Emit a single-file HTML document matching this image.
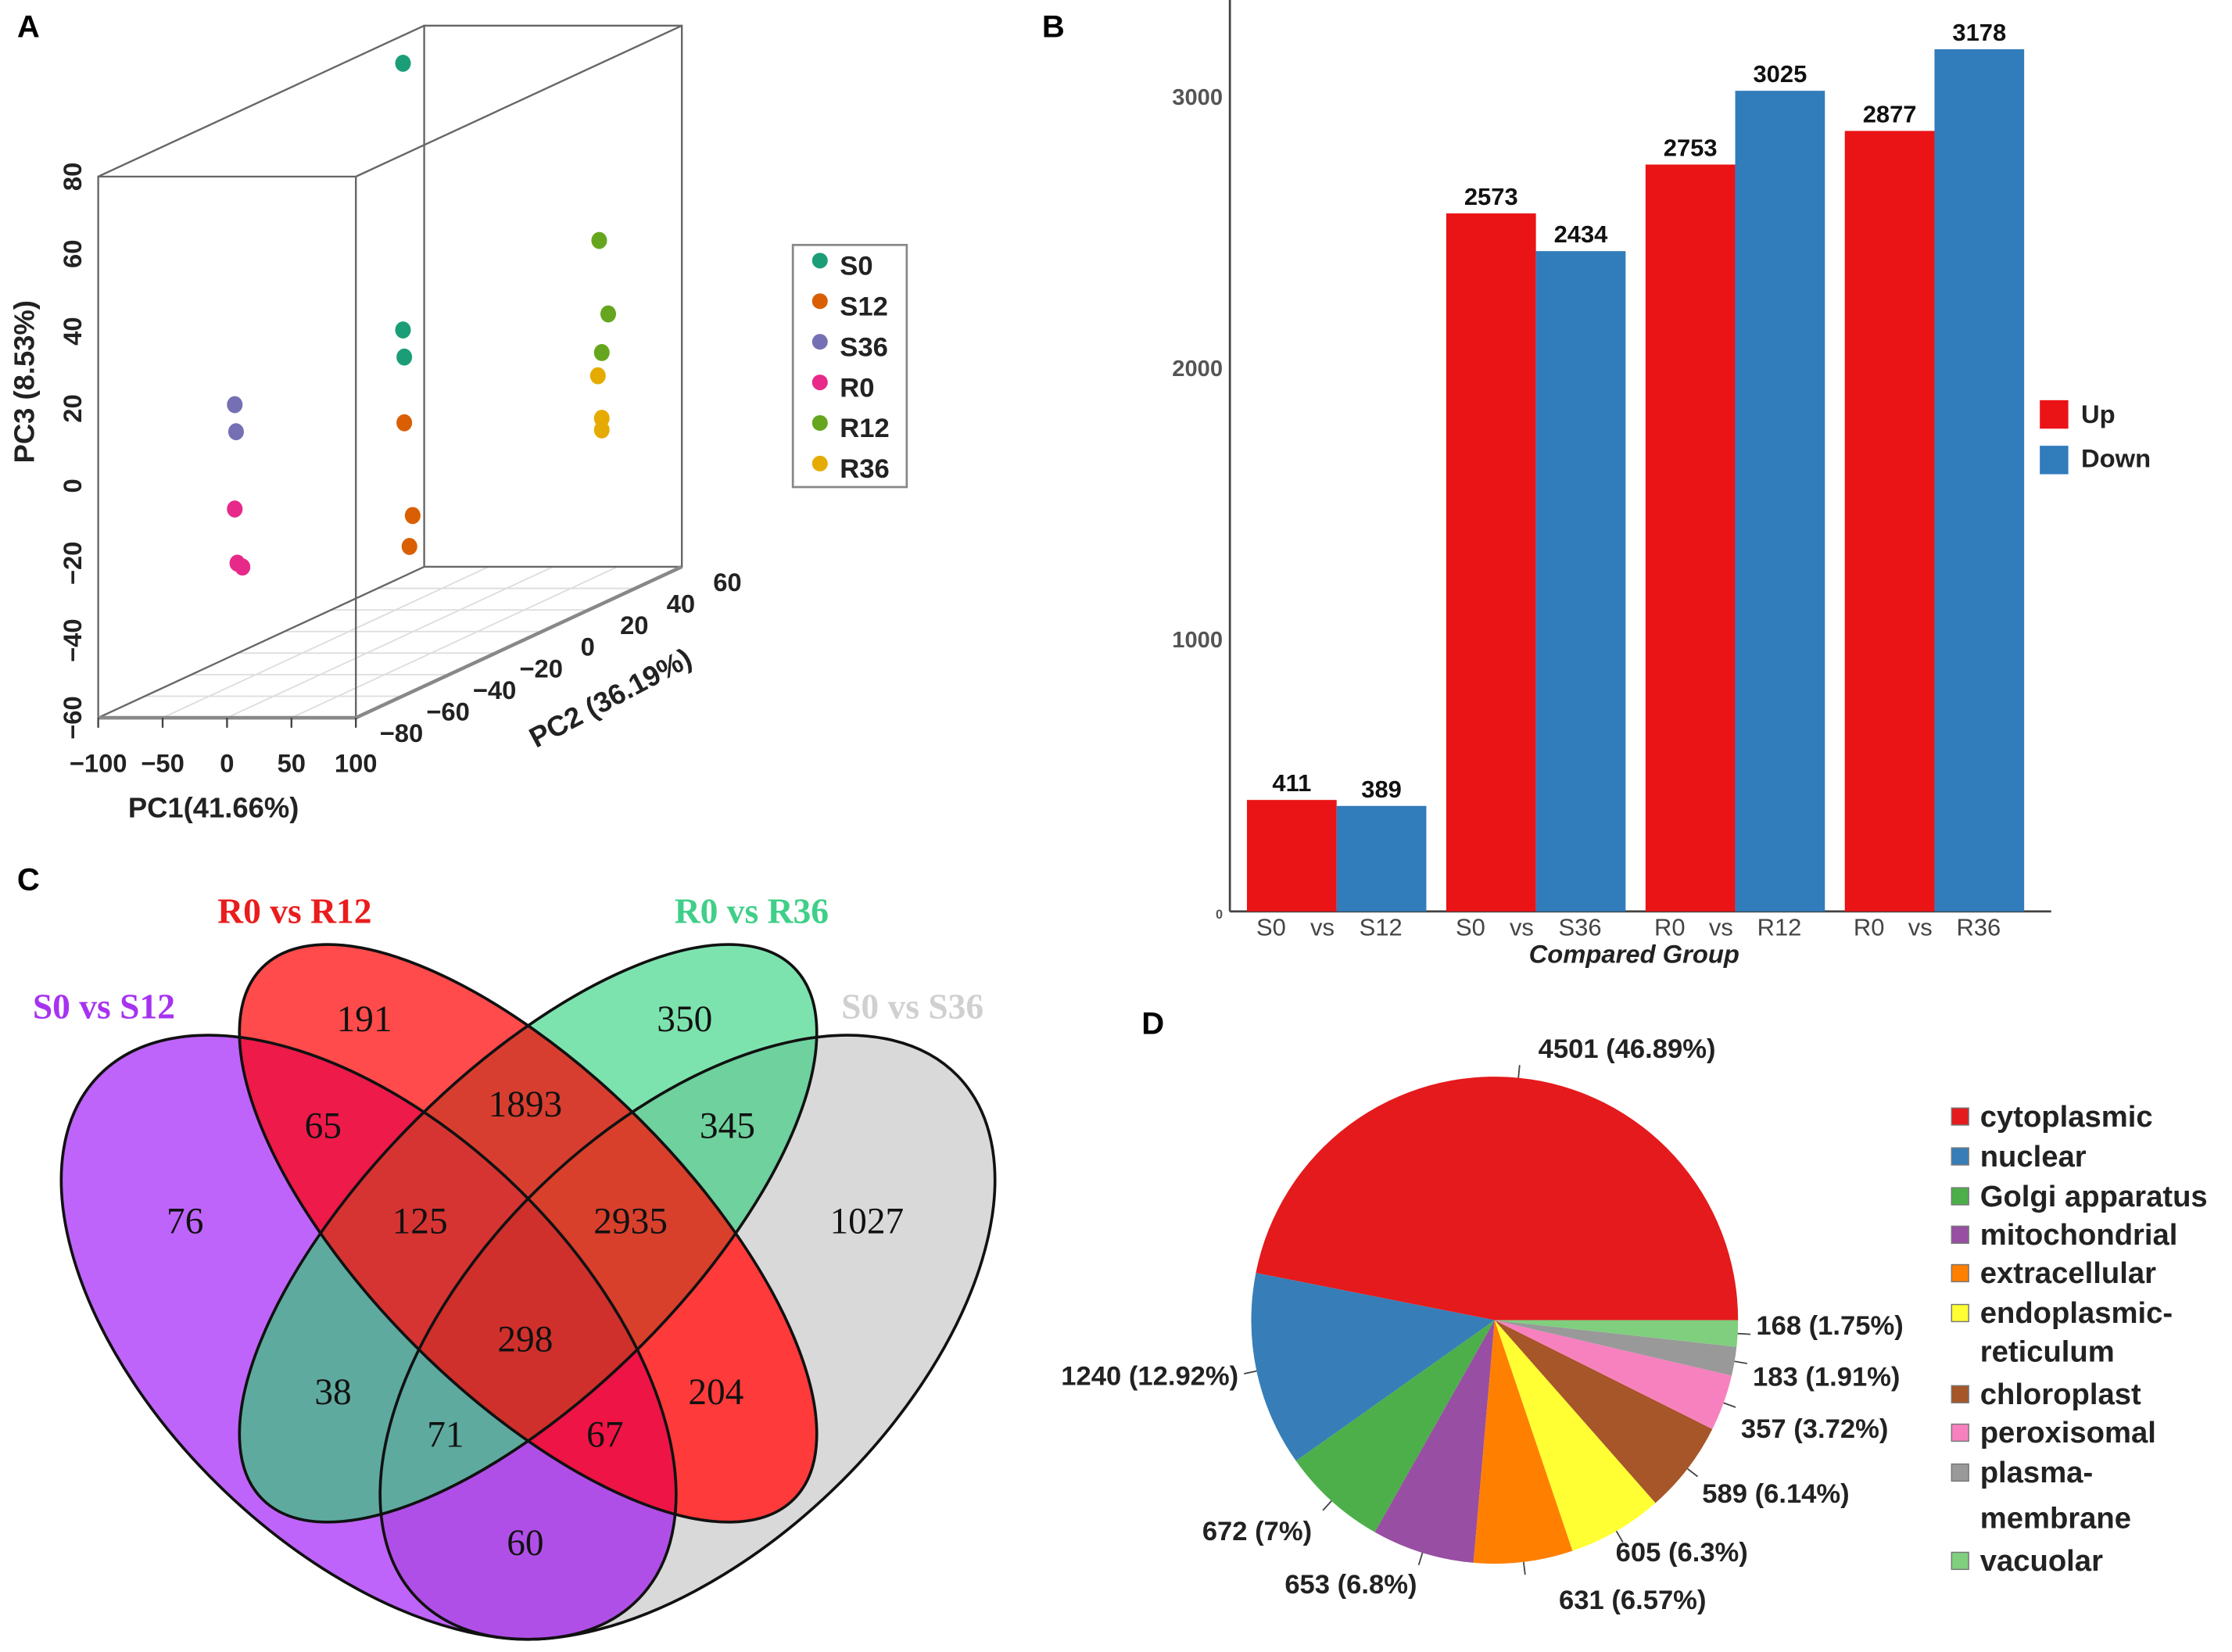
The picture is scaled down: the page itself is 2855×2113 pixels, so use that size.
<!DOCTYPE html>
<html><head><meta charset="utf-8">
<style>
html,body{margin:0;padding:0;background:#fff;overflow:hidden;width:2855px;height:2113px;}
svg{display:block;}
text{font-family:"Liberation Sans",Arial,sans-serif;}
.serif{font-family:"Liberation Serif","Times New Roman",serif;}
.narrow{font-family:"Liberation Sans Narrow","Liberation Sans",sans-serif;}
</style></head>
<body>
<svg id="fig" width="2855" height="2113" viewBox="0 0 1568 1160" preserveAspectRatio="none" overflow="hidden" xmlns="http://www.w3.org/2000/svg">
<defs>
<clipPath id="cP"><ellipse cx="259" cy="939" rx="264" ry="148" transform="rotate(44 259 939)"/></clipPath>
<clipPath id="cY"><ellipse cx="483" cy="939" rx="264" ry="148" transform="rotate(-44 483 939)"/></clipPath>
<clipPath id="cR"><ellipse cx="371" cy="866" rx="264" ry="112" transform="rotate(45 371 866)"/></clipPath>
<clipPath id="cG"><ellipse cx="371" cy="866" rx="264" ry="112" transform="rotate(-45 371 866)"/></clipPath>
</defs>
<g id="panelA"></g>
<g id="panelB"></g>
<g id="panelC"></g>
<g id="panelD"></g>
</svg>
<script>
// ---------- PCA data ----------
const pcaGroups = ["S0","S12","S36","R0","R12","R36"];
const pcaColors = ["#1b9e77","#d95f02","#7570b3","#e7298a","#66a61e","#e6ab02"];
const pcaPC1 = [[-8,-8,-7],[-7,-0.5,-3],[6,7],[6,8,12],[72,79,74],[71,74,74]];
const pcaPC2 = [[0,0,0],[0,0,0],[-80,-80],[-80,-80,-80],[40,40,40],[40,40,40]];
const pcaPC3 = [[87,18,11],[-6,-30,-38],[21,14],[-6,-20,-21],[30,11,1],[-5,-16,-19]];
const pc1Ticks = [-100,-50,0,50,100];
const pc2Ticks = [-80,-60,-40,-20,0,20,40,60];
const pc3Ticks = [-60,-40,-20,0,20,40,60,80];
// ---------- Bar data ----------
const barGroupA = ["S0","S0","R0","R0"];
const barGroupB = ["S12","S36","R12","R36"];
const upValues = [411,2573,2753,2877];
const downValues = [389,2434,3025,3178];
const barTicks = [0,1000,2000,3000];
// ---------- Venn data ----------
const vennSets = ["S0 vs S12","R0 vs R12","R0 vs R36","S0 vs S36"];
const vennCounts = [191,350,65,1893,345,76,125,2935,1027,298,38,204,71,67,60];
// ---------- Pie data ----------
const pieLabels = ["cytoplasmic","nuclear","Golgi apparatus","mitochondrial","extracellular","endoplasmic-\nreticulum","chloroplast","peroxisomal","plasma-\nmembrane","vacuolar"];
const pieValues = [4501,1240,672,653,631,605,589,357,183,168];
const piePercents = ["46.89%","12.92%","7%","6.8%","6.57%","6.3%","6.14%","3.72%","1.91%","1.75%"];

const NS="http://www.w3.org/2000/svg";
function mk(tag,attrs,parent,txt){const e=document.createElementNS(NS,tag);for(const k in attrs)e.setAttribute(k,attrs[k]);if(txt!==undefined)e.textContent=txt;parent.appendChild(e);return e;}

// ================= Panel A =================
const A=document.getElementById('panelA');
let e;
e=mk('text',{x:12,y:26,'font-size':22,'font-weight':'bold'},A,'A');


const FX0=69,FX1=250,FYT=124,FYB=504,DX=229,DY=-106;
function px(p1,p2){return FX0+(p1+100)/200*(FX1-FX0)+(p2+80)/140*DX;}
function py(p3,p2){return FYB-(p3+60)/140*(FYB-FYT)+(p2+80)/140*DY;}
pc1Ticks.slice(1,-1).forEach(t=>{
  e=mk('line',{x1:px(t,-80),y1:py(-60,-80),x2:px(t,60),y2:py(-60,60),stroke:'#ddd','stroke-width':1},A);
  
  
});
pc2Ticks.slice(1,-1).forEach(t=>{
  e=mk('line',{x1:px(-100,t),y1:py(-60,t),x2:px(100,t),y2:py(-60,t),stroke:'#ddd','stroke-width':1},A);
  
  
});
const boxPath=`M${FX0},${FYT}H${FX1}V${FYB}H${FX0}Z M${FX0+DX},${FYT+DY}H${FX1+DX}V${FYB+DY}H${FX0+DX}Z M${FX0},${FYT}L${FX0+DX},${FYT+DY} M${FX1},${FYT}L${FX1+DX},${FYT+DY} M${FX0},${FYB}L${FX0+DX},${FYB+DY} M${FX1},${FYB}L${FX1+DX},${FYB+DY}`;
e=mk('path',{d:boxPath,fill:'none',stroke:'#666','stroke-width':1.3},A);


e=mk('path',{d:`M${FX0},${FYB}H${FX1}L${FX1+DX},${FYB+DY}`,fill:'none',stroke:'#888','stroke-width':2.5},A);


pc1Ticks.forEach(t=>{
  e=mk('line',{x1:px(t,-80),y1:FYB,x2:px(t,-80),y2:FYB+7,stroke:'#444','stroke-width':1.3},A);
  
  
  e=mk('text',{x:px(t,-80),y:FYB+38,'text-anchor':'middle','font-size':18,'font-weight':'bold',fill:'#222'},A,String(t).replace('-','\u2212'));
  
  
});
pc3Ticks.forEach(t=>{
  const y=py(t,-80);
  e=mk('text',{x:0,y:0,transform:`translate(57 ${y}) rotate(-90)`,'text-anchor':'middle','font-size':18,'font-weight':'bold',fill:'#222'},A,String(t).replace('-','\u2212'));
  
  
});
pc2Ticks.forEach(t=>{
  e=mk('text',{x:px(100,t)+32,y:py(-60,t)+17,'text-anchor':'middle','font-size':18,'font-weight':'bold',fill:'#222'},A,String(t).replace('-','\u2212'));
  
  
});
e=mk('text',{x:150,y:574,'text-anchor':'middle','font-size':20,'font-weight':'bold',fill:'#222'},A,'PC1(41.66%)');


e=mk('text',{x:0,y:0,transform:'translate(24 268) rotate(-90)','text-anchor':'middle','font-size':20,'font-weight':'bold',fill:'#222'},A,'PC3 (8.53%)');


e=mk('text',{x:0,y:0,transform:'translate(432 496) rotate(-28)','text-anchor':'middle','font-size':20,'font-weight':'bold',fill:'#222'},A,'PC2 (36.19%)');


pcaGroups.forEach((g,gi)=>{
  pcaPC1[gi].forEach((v,i)=>{
    e=mk('ellipse',{cx:px(v,pcaPC2[gi][i]),cy:py(pcaPC3[gi][i],pcaPC2[gi][i]),rx:5.5,ry:6,fill:pcaColors[gi]},A);
    
    
  });
});
e=mk('rect',{x:557,y:172,width:80,height:170,fill:'#fff',stroke:'#888','stroke-width':1.5},A);


pcaGroups.forEach((g,gi)=>{
  const y=185+gi*28.5;
  e=mk('circle',{cx:576,cy:y-2,r:5.5,fill:pcaColors[gi]},A);
  
  
  e=mk('text',{x:590,y:y+8,'font-size':19,'font-weight':'bold',fill:'#222'},A,g);
  
  
});

// ================= Panel B =================
const B=document.getElementById('panelB');
e=mk('text',{x:732,y:26,'font-size':22,'font-weight':'bold'},B,'B');


const BX0=864,BY0=640;
function by(v){return BY0-v*0.1905;}
const BW=63, GX0=876, GSTEP=140;
e=mk('line',{x1:BX0,y1:0,x2:BX0,y2:BY0,stroke:'#444','stroke-width':1.5},B);


e=mk('line',{x1:BX0,y1:BY0,x2:1441,y2:BY0,stroke:'#444','stroke-width':1.5},B);


barTicks.forEach(t=>{
  e=mk('text',{x:BX0-5,y:by(t)+5,'text-anchor':'end','font-size':t===0?9:16,'font-weight':'bold',fill:'#555'},B,String(t));
  
  
});
upValues.forEach((u,i)=>{
  const x=GX0+i*GSTEP;
  e=mk('rect',{x:x,y:by(u),width:BW,height:BY0-by(u),fill:'#ea1316'},B);
  
  
  e=mk('rect',{x:x+BW,y:by(downValues[i]),width:BW,height:BY0-by(downValues[i]),fill:'#317cbb'},B);
  
  
  e=mk('text',{x:x+BW/2,y:by(u)-6,'text-anchor':'middle','font-size':17,'font-weight':'bold',fill:'#111'},B,String(u));
  
  
  e=mk('text',{x:x+BW*1.5,y:by(downValues[i])-6,'text-anchor':'middle','font-size':17,'font-weight':'bold',fill:'#111'},B,String(downValues[i]));
  
  
  e=mk('text',{x:x+17,y:657,'text-anchor':'middle','font-size':17,fill:'#444'},B,barGroupA[i]);
  
  
  e=mk('text',{x:x+53,y:657,'text-anchor':'middle','font-size':17,fill:'#444'},B,'vs');
  
  
  e=mk('text',{x:x+94,y:657,'text-anchor':'middle','font-size':17,fill:'#444'},B,barGroupB[i]);
  
  
});
e=mk('text',{x:1148,y:676,'text-anchor':'middle','font-size':18,'font-weight':'bold','font-style':'italic',fill:'#222'},B,'Compared Group');


e=mk('rect',{x:1433,y:281,width:20,height:20,fill:'#ea1316'},B);


e=mk('text',{x:1462,y:297,'font-size':18,'font-weight':'bold',fill:'#222'},B,'Up');


e=mk('rect',{x:1433,y:313,width:20,height:20,fill:'#317cbb'},B);


e=mk('text',{x:1462,y:328,'font-size':18,'font-weight':'bold',fill:'#222'},B,'Down');



// ================= Panel C =================
const C=document.getElementById('panelC');
e=mk('text',{x:12,y:625,'font-size':22,'font-weight':'bold'},C,'C');


const regions=[
 [['cP'],'#bf64fa'],[['cY'],'#d9d9d9'],[['cR'],'#ff4b4b'],[['cG'],'#7de3ae'],
 [['cP','cY'],'#b04fe8'],[['cP','cR'],'#ee1a4a'],[['cP','cG'],'#5eaa9f'],
 [['cR','cY'],'#ff3a3a'],[['cG','cY'],'#6ed19e'],[['cR','cG'],'#d83e30'],
 [['cP','cG','cY'],'#5eaa9f'],[['cP','cR','cY'],'#ee1445'],[['cP','cR','cG'],'#d63432'],[['cR','cG','cY'],'#d8402c'],
 [['cP','cR','cG','cY'],'#d0302b']];
regions.forEach(r=>{
  let parent=C;
  r[0].forEach(c=>{parent=mk('g',{'clip-path':`url(#${c})`},parent);});
  e=mk('rect',{x:0,y:560,width:760,height:595,fill:r[1]},parent);
  
  
});
[['259','939','44'],['483','939','-44']].forEach(p=>{
  e=mk('ellipse',{cx:p[0],cy:p[1],rx:264,ry:148,transform:`rotate(${p[2]} ${p[0]} ${p[1]})`,fill:'none',stroke:'#111','stroke-width':2},C);
  
  
});
['45','-45'].forEach(a=>{
  e=mk('ellipse',{cx:371,cy:866,rx:264,ry:112,transform:`rotate(${a} 371 866)`,fill:'none',stroke:'#111','stroke-width':2},C);
  
  
});
const vennPos=[[256,715],[481,715],[227,790],[369,775],[511,790],[130,857],[295,857],[443,857],[609,857],[369,940],[234,977],[503,977],[313,1007],[425,1007],[369,1083]];
vennCounts.forEach((v,i)=>{
  e=mk('text',{x:vennPos[i][0],y:vennPos[i][1]+9,'text-anchor':'middle','font-size':26,fill:'#111',class:'serif'},C,String(v));
  
  
});
const vennTitlePos=[[73,715,'#a732f0'],[207,648,'#ea1c1c'],[528,648,'#3fcf88'],[641,715,'#d0d0d0']];
vennSets.forEach((s,i)=>{
  e=mk('text',{x:vennTitlePos[i][0],y:vennTitlePos[i][1],'text-anchor':'middle','font-size':25,'font-weight':'bold',fill:vennTitlePos[i][2],class:'serif'},C,s);
  
  
});

// ================= Panel D =================
const D=document.getElementById('panelD');
e=mk('text',{x:802,y:726,'font-size':22,'font-weight':'bold'},D,'D');


const pieColors=['#e41a1c','#377eb8','#4daf4a','#984ea3','#ff7f00','#ffff33','#a65628','#f781bf','#999999','#7fcf7f'];
const labelNudgeX=[0,0,-5,0,0,-7,0,0,0,0];
const labelNudgeY=[4,0,11,9,25,3,9,13,8,-7];
const PCX=1050,PCY=927,PR=171;
const total=pieValues.reduce((a,b)=>a+b,0);
let ang=0;
pieValues.forEach((v,i)=>{
  const a0=ang, a1=ang+v/total*2*Math.PI; ang=a1;
  const x0=PCX+PR*Math.cos(a0), y0=PCY-PR*Math.sin(a0), x1=PCX+PR*Math.cos(a1), y1=PCY-PR*Math.sin(a1);
  const large=(a1-a0)>Math.PI?1:0;
  e=mk('path',{d:`M${PCX},${PCY}L${x0},${y0}A${PR},${PR} 0 ${large} 0 ${x1},${y1}Z`,fill:pieColors[i]},D);
  
  
  const am=(a0+a1)/2, c=Math.cos(am), s=Math.sin(am);
  e=mk('line',{x1:PCX+PR*c,y1:PCY-PR*s,x2:PCX+(PR+9)*c,y2:PCY-(PR+9)*s,stroke:'#444','stroke-width':1},D);
  
  
  let lx=PCX+(PR+13)*c+labelNudgeX[i], ly=PCY-(PR+13)*s+7+labelNudgeY[i], anchor=c>0.15?'start':(c<-0.15?'end':'middle');
  if(anchor==='middle'){lx+=75; ly-=12;}
  e=mk('text',{x:lx,y:ly,'text-anchor':anchor,'font-size':19,'font-weight':'bold',fill:'#222',class:'narrow'},D,`${v} (${piePercents[i]})`);
  
  
});
const legYs=[784,812,840,867,894,922,979,1006,1034,1096];
pieLabels.forEach((l,i)=>{
  const y=legYs[i];
  e=mk('rect',{x:1371,y:y-6,width:12,height:12,fill:pieColors[i],stroke:'#777','stroke-width':0.8},D);
  
  
  l.split('\n').forEach((part,k)=>{
    e=mk('text',{x:1391,y:y+7+k*(i===8?32:27),'font-size':21,'font-weight':'bold',fill:'#222',class:'narrow'},D,part);
    
    
  });
});
</script>
</body></html>
